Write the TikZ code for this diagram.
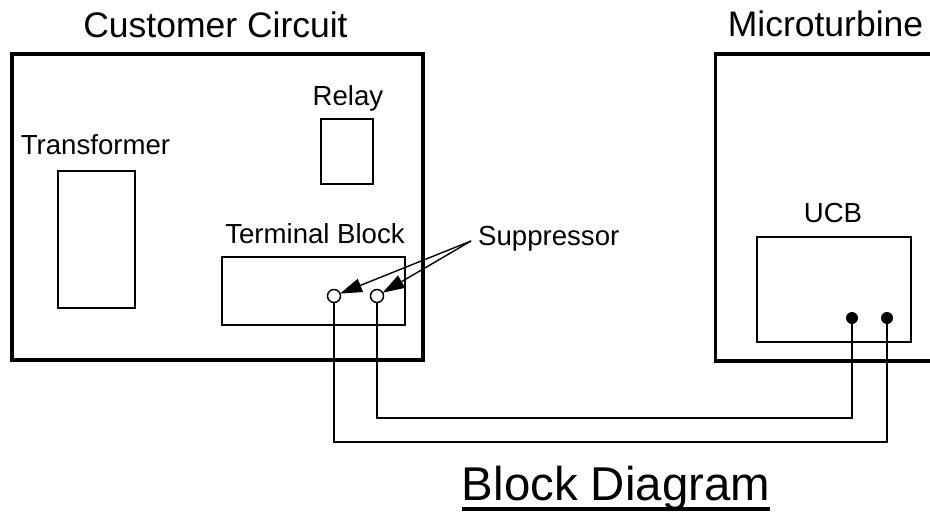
\documentclass[tikz,border=0pt]{standalone}
\usepackage{fontspec}
\setmainfont{Liberation Sans}
\usetikzlibrary{arrows.meta}
\begin{document}
\begin{tikzpicture}[x=1pt,y=-1pt,
  outerbox/.style={draw,line width=3.6pt,rectangle,inner sep=0pt,outer sep=0pt,anchor=north west},
  innerbox/.style={draw,line width=1.6pt,rectangle,inner sep=0pt,outer sep=0pt,anchor=north west},
  lbl/.style={inner sep=0pt,anchor=base,font=\fontsize{27.6}{30}\selectfont},
  biglbl/.style={inner sep=0pt,anchor=base,font=\fontsize{35.5}{40}\selectfont},
  term/.style={circle,draw,fill=white,line width=1.5pt,minimum size=13pt,inner sep=0pt,outer sep=0pt},
  tdot/.style={circle,fill=black,minimum size=12pt,inner sep=0pt,outer sep=0pt},
  wire/.style={line width=1.6pt},
  sarrow/.style={line width=1.4pt,-{Triangle[length=22pt,width=14pt]}}]
\useasboundingbox (0,0) rectangle (930,512);
\clip (0,0) rectangle (930,512);
\fill[white] (0,0) rectangle (930,512);

% Customer circuit
\node[outerbox,minimum width=411pt,minimum height=306pt] (cust) at (12,54) {};
\node[biglbl] (custlbl) at (215.5,37) {Customer Circuit};
\node[innerbox,minimum width=77pt,minimum height=137pt] (trans) at (58,171) {};
\node[lbl] (translbl) at (95.5,154) {Transformer};
\node[innerbox,minimum width=52pt,minimum height=65pt] (relay) at (321,119) {};
\node[lbl] (relaylbl) at (348,105) {Relay};
\node[innerbox,minimum width=183pt,minimum height=68pt] (tb) at (222,257) {};
\node[lbl] (tblbl) at (315,243) {Terminal Block};
\node[term] (t1) at (334,296) {};
\node[term] (t2) at (377,296) {};

% Suppressor
\node[lbl,anchor=base west] (sup) at (478,245) {Suppressor};
\coordinate (s0) at (471,241);
\draw[sarrow] (s0) -- (t1);
\draw[sarrow] (s0) -- (t2);

% Microturbine
\node[outerbox,minimum width=260pt,minimum height=307pt] (micro) at (715.5,54) {};
\node[biglbl] (microlbl) at (825.5,36) {Microturbine};
\node[innerbox,minimum width=154pt,minimum height=105pt] (ucb) at (757,237) {};
\node[lbl] (ucblbl) at (833,222) {UCB};
\node[tdot] (d1) at (852,318) {};
\node[tdot] (d2) at (887,318) {};

% Wires
\coordinate (w1a) at (377,418);
\coordinate (w1b) at (852,418);
\coordinate (w2a) at (334,442);
\coordinate (w2b) at (887,442);
\draw[wire] (t2.south) -- (w1a) -- (w1b) -- (d1.center);
\draw[wire] (t1.south) -- (w2a) -- (w2b) -- (d2.center);

% Title
\node[inner sep=0pt,anchor=base,font=\fontsize{47.4}{52}\selectfont] (title) at (616,500) {Block Diagram};
\draw[line width=3.5pt] ([yshift=-9pt]title.base west) -- ([yshift=-9pt]title.base east);
\end{tikzpicture}
\end{document}
